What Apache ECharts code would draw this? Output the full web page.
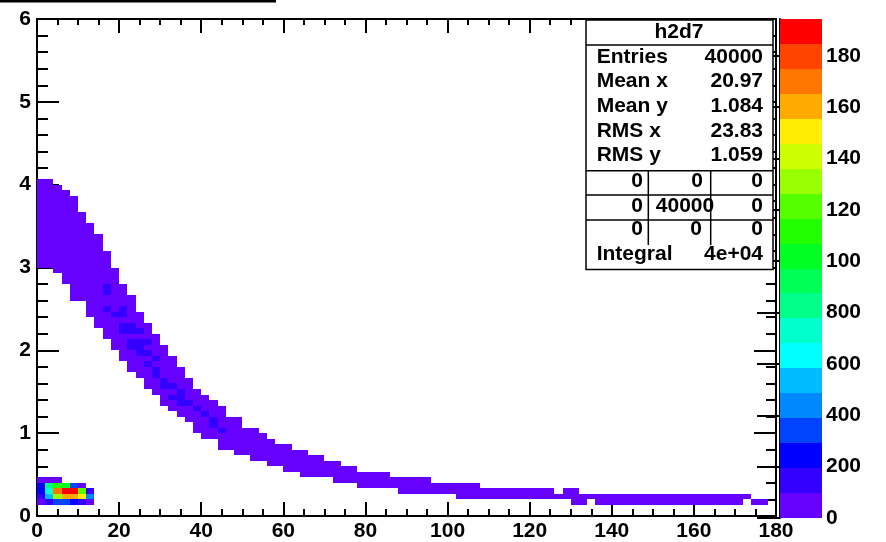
<!DOCTYPE html>
<html>
<head>
<meta charset="utf-8">
<title>h2d7</title>
<script src="https://cdn.jsdelivr.net/npm/echarts@6.0.0/dist/echarts.min.js"></script>
<style>
  html, body { margin: 0; padding: 0; background: #fff; }
  #chart { width: 886px; height: 542px; }
</style>
</head>
<body>
<div id="chart"></div>
<script>
// histogram binning: 90 x-bins on [0,180], 90 y-bins on [0,6]
var binW = 2
var binH = 6 / 90

// the band: lowest and highest filled y-bin for each x-bin 0..88
var bandLo = [45, 45, 44, 42, 39, 39, 36, 34, 32, 30,
  28, 26, 25, 23, 22, 20, 19, 18, 17, 15,
  14, 14, 12, 12, 11, 11, 10, 10, 9, 9,
  8, 8, 7, 7, 7, 7, 6, 6, 6, 5,
  5, 5, 5, 5, 4, 4, 4, 4, 4, 4,
  4, 3, 3, 3, 3, 3, 3, 3, 3, 3,
  3, 3, 3, 3, 3, 2, 2, 3, 2, 2,
  2, 2, 2, 2, 2, 2, 2, 2, 2, 2,
  2, 2, 2, 2, 2, 2, 3, 2, 2]
var bandHi = [60, 60, 59, 58, 57, 54, 52, 50, 47, 44,
  41, 39, 36, 34, 32, 30, 28, 26, 24, 22,
  21, 20, 19, 17, 17, 15, 15, 14, 13, 12,
  12, 11, 11, 10, 10, 9, 9, 8, 8, 7,
  7, 7, 7, 6, 6, 6, 6, 6, 5, 5,
  5, 5, 5, 5, 4, 4, 4, 4, 4, 4,
  4, 4, 4, 3, 4, 4, 3, 3, 3, 3,
  3, 3, 3, 3, 3, 3, 3, 3, 3, 3,
  3, 3, 3, 3, 3, 3, 3, 2, 2]
// content of an ordinary band cell (lowest colour level)
var bandValue = 45

// band cells in the second colour level: [xBin, yBin, content]
var darkCells = [
  [8, 41, 140], [8, 40, 140], [8, 37, 140], [9, 36, 140], [10, 36, 140], [10, 37, 140],
  [10, 34, 140], [11, 34, 140], [10, 33, 140], [11, 33, 140], [12, 33, 140],
  [11, 31, 140], [12, 31, 140], [13, 31, 140], [11, 30, 140], [12, 30, 140],
  [12, 29, 140], [13, 29, 140], [14, 28, 140], [13, 27, 140], [14, 26, 140], [14, 25, 140],
  [15, 24, 140], [15, 23, 140], [16, 23, 140], [16, 21, 140], [17, 21, 140], [17, 22, 140],
  [17, 20, 140], [18, 20, 140], [19, 19, 140], [20, 18, 140], [21, 17, 140], [21, 16, 140],
  [22, 15, 140]
]

// hot spot near the origin: [xBin, yBin, content]
var clusterCells = [
  [0, 6, 50], [1, 6, 50], [2, 6, 50],
  [0, 5, 240], [1, 5, 820], [2, 5, 1110], [3, 5, 1010], [4, 5, 340], [5, 5, 50],
  [0, 4, 240], [1, 4, 720], [2, 4, 1700], [3, 4, 1940], [4, 4, 1880], [5, 4, 1210], [6, 4, 150],
  [0, 3, 150], [1, 3, 530], [2, 3, 1300], [3, 3, 1600], [4, 3, 1610], [5, 3, 1500], [6, 3, 440],
  [0, 2, 50], [1, 2, 150], [2, 2, 340], [3, 2, 350], [4, 2, 250], [5, 2, 150], [6, 2, 50]
]

// colour levels, bottom to top
var palette = ['#6600ff', '#3300ff', '#0000ff', '#0044ff', '#0088ff',
  '#00bbff', '#00ffff', '#00ffcc', '#00ff88', '#00ff55',
  '#00ff22', '#22ff00', '#55ff00', '#99ff00', '#ccff00',
  '#ffee00', '#ffaa00', '#ff7700', '#ff4400', '#ff0000']
var zMax = 1943

var zTicks = [0, 200, 400, 600, 800, 1000, 1200, 1400, 1600, 1800]
var zLabels = ['0', '200', '400', '600', '800', '100', '120', '140', '160', '180']

var FONT = '"Liberation Sans", Arial, Helvetica, sans-serif'
var zStep = zMax / palette.length

function colorOf(v) {
  var k = Math.floor(v / zStep)
  return palette[Math.max(0, Math.min(palette.length - 1, k))]
}

// expand band extents into cells
var dark = {}
darkCells.forEach(function (c) { dark[c[0] + '_' + c[1]] = c[2] })
var cells = []
for (var i = 0; i < bandLo.length; i++) {
  for (var j = bandLo[i]; j <= bandHi[i]; j++) {
    var v = dark[i + '_' + j]
    cells.push([i * binW, j * binH, v != null ? v : bandValue])
  }
}
clusterCells.forEach(function (c) {
  cells.push([c[0] * binW, c[1] * binH, c[2]])
})

var levels = palette.map(function (c, k) { return [0, k * zStep, k] })

function rectBetween(p0, p1, fill) {
  var x0 = Math.round(p0[0]), y0 = Math.round(p0[1])
  var x1 = Math.round(p1[0]), y1 = Math.round(p1[1])
  return {
    type: 'rect',
    shape: { x: x0, y: y0, width: x1 - x0, height: y1 - y0 },
    style: { fill: fill }
  }
}

function renderCell(params, api) {
  var x = api.value(0), y = api.value(1)
  return rectBetween(api.coord([x, y + binH]), api.coord([x + binW, y]), colorOf(api.value(2)))
}

function renderLevel(params, api) {
  var lo = api.value(1)
  return rectBetween(api.coord([0, lo + zStep]), api.coord([1, lo]), palette[api.value(2)])
}

var black = { color: '#000', width: 2 }
var labelStyle = { color: '#000', fontSize: 21, fontWeight: 'bold', fontFamily: FONT }

function frameAxis(extra) {
  var a = {
    gridIndex: 0,
    type: 'value',
    axisLine: { show: true, onZero: false, lineStyle: black },
    axisTick: { show: true, inside: true, lineStyle: black },
    minorTick: { show: true, lineStyle: black },
    splitLine: { show: false },
    minorSplitLine: { show: false }
  }
  for (var k in extra) a[k] = extra[k]
  return a
}

// stats box helpers
function txt(text, x, y, align) {
  return {
    type: 'text', x: x, y: y, z: 101,
    style: {
      text: text, fill: '#000',
      font: 'bold 21px ' + FONT,
      align: align, verticalAlign: 'middle',
      textAlign: align, textVerticalAlign: 'middle'
    }
  }
}
function seg(x1, y1, x2, y2) {
  return {
    type: 'line', z: 101,
    shape: { x1: x1, y1: y1, x2: x2, y2: y2 },
    style: { stroke: '#000', lineWidth: 1.5 }
  }
}

var statRows = [['Entries', '40000'], ['Mean x', '20.97'], ['Mean y', '1.084'],
  ['RMS x', '23.83'], ['RMS y', '1.059']]

var graphics = [
  { type: 'rect', z: 100, shape: { x: 0, y: 0, width: 276, height: 2.5 }, style: { fill: '#000' } },
  { type: 'rect', z: 100, shape: { x: 586, y: 20, width: 187, height: 249.5 },
    style: { fill: '#fff', stroke: '#000', lineWidth: 1.5 } },
  txt('h2d7', 679, 32.5, 'center'),
  seg(586, 45, 773, 45),
  seg(586, 170.7, 773, 170.7),
  seg(586, 195, 773, 195),
  seg(586, 220, 773, 220),
  seg(648.3, 170.7, 648.3, 245),
  seg(710.7, 170.7, 710.7, 245),
  txt('0', 643, 181, 'right'), txt('0', 703, 181, 'right'), txt('0', 763, 181, 'right'),
  txt('0', 643, 206, 'right'), txt('40000', 685, 206, 'center'), txt('0', 763, 206, 'right'),
  txt('0', 643, 229.5, 'right'), txt('0', 702, 229.5, 'right'), txt('0', 763, 229.5, 'right'),
  txt('Integral', 596.7, 254, 'left'), txt('4e+04', 763, 254, 'right')
]
statRows.forEach(function (r, k) {
  var y = 57 + 24.6 * k
  graphics.push(txt(r[0], 596.7, y, 'left'))
  graphics.push(txt(r[1], 763, y, 'right'))
})

var chart = echarts.init(document.getElementById('chart'), null, { renderer: 'canvas' })
chart.setOption({
  animation: false,
  backgroundColor: '#fff',
  grid: [
    { left: 37, right: 110, top: 19, bottom: 24 },
    { left: 780, right: 64, top: 19, bottom: 24 }
  ],
  xAxis: [
    frameAxis({
      position: 'bottom', min: 0, max: 180, interval: 20,
      axisTick: { show: true, inside: true, length: 14, lineStyle: black },
      minorTick: { show: true, splitNumber: 4, length: 7, lineStyle: black },
      axisLabel: Object.assign({ margin: 5 }, labelStyle)
    }),
    frameAxis({
      position: 'top', min: 0, max: 180, interval: 20,
      axisTick: { show: true, inside: true, length: 14, lineStyle: black },
      minorTick: { show: true, splitNumber: 4, length: 6, lineStyle: black },
      axisLabel: { show: false }
    }),
    { gridIndex: 1, type: 'value', min: 0, max: 1, show: false }
  ],
  yAxis: [
    frameAxis({
      position: 'left', min: 0, max: 6, interval: 1,
      axisTick: { show: true, inside: true, length: 22, lineStyle: black },
      minorTick: { show: true, splitNumber: 5, length: 11, lineStyle: black },
      axisLabel: Object.assign({ margin: 6 }, labelStyle)
    }),
    frameAxis({
      position: 'right', min: 0, max: 6, interval: 1,
      axisTick: { show: true, inside: true, length: 22, lineStyle: black },
      minorTick: { show: true, splitNumber: 5, length: 10, lineStyle: black },
      axisLabel: { show: false }
    }),
    {
      gridIndex: 1, type: 'value', position: 'right', min: 0, max: zMax,
      axisLine: { show: true, lineStyle: black },
      axisTick: { show: true, inside: true, length: 23, lineStyle: black, customValues: zTicks },
      axisLabel: Object.assign({
        margin: 4,
        customValues: zTicks,
        formatter: function (v) { return zLabels[zTicks.indexOf(v)] }
      }, labelStyle),
      splitLine: { show: false }
    }
  ],
  series: [
    {
      type: 'custom',
      xAxisIndex: 0, yAxisIndex: 0,
      renderItem: renderCell,
      encode: { x: 0, y: 1 },
      data: cells,
      silent: true
    },
    {
      type: 'custom',
      xAxisIndex: 2, yAxisIndex: 2,
      renderItem: renderLevel,
      encode: { x: 0, y: 1 },
      data: levels,
      silent: true
    }
  ],
  graphic: graphics
})
</script>
</body>
</html>
